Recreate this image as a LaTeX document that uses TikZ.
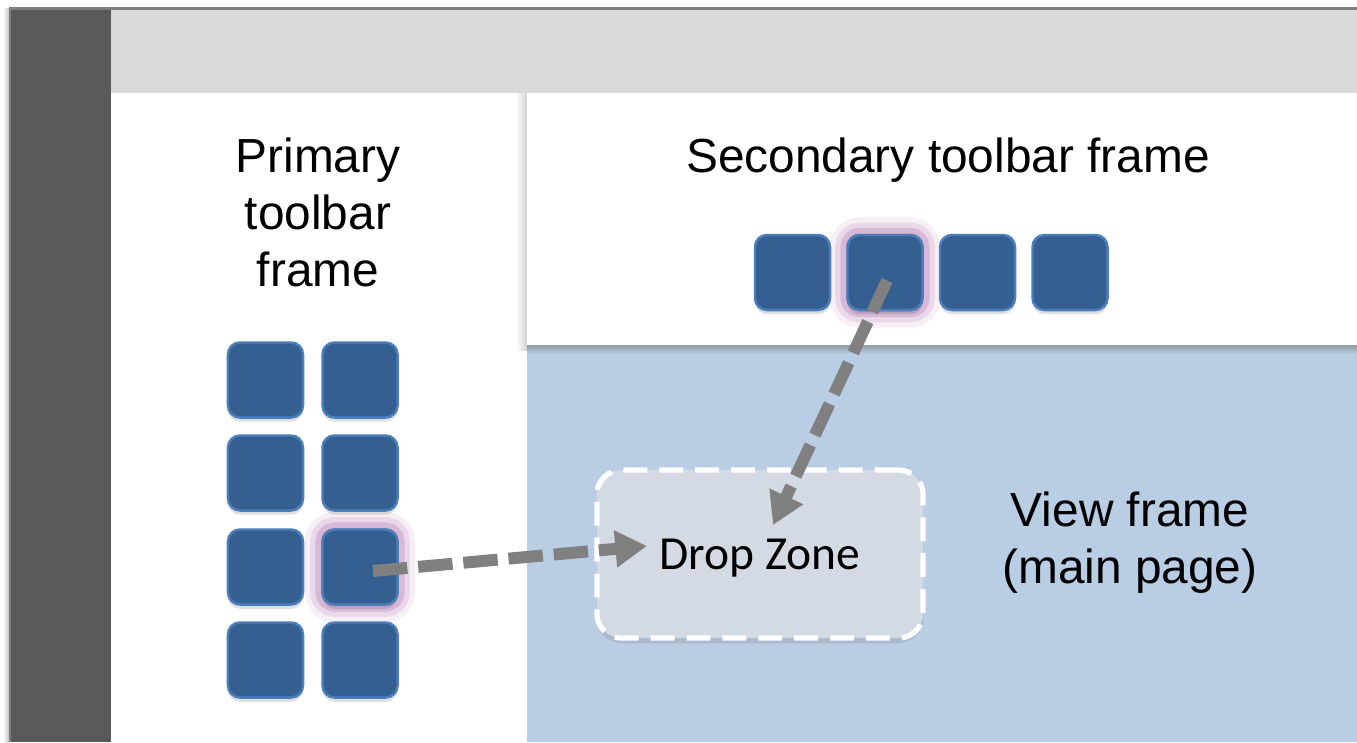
\documentclass[tikz,border=0pt]{standalone}
\usepackage{fontspec}
\setmainfont{Liberation Sans}
\newfontfamily\calibri{Carlito}
\usetikzlibrary{arrows.meta,shadows}
\definecolor{barGray}{HTML}{595959}
\definecolor{bandGray}{HTML}{D9D9D9}
\definecolor{edgeGray}{HTML}{7F7F7F}
\definecolor{viewBlue}{HTML}{B9CDE5}
\definecolor{btnBlue}{HTML}{365F91}
\definecolor{btnEdge}{HTML}{4A7EBB}
\definecolor{glowPink}{HTML}{B77FB5}
\definecolor{zoneGray}{HTML}{D3DAE3}
\definecolor{arrowGray}{HTML}{808080}
\tikzset{
  btn/.style={draw=btnEdge, line width=0.7pt, fill=btnBlue, rounded corners=3.4pt,
    minimum size=0.75cm, inner sep=0pt,
    drop shadow={shadow xshift=0pt, shadow yshift=-1.2pt, opacity=0.25}},
  picked/.style={preaction={draw=glowPink, line width=10pt, opacity=0.12},
    preaction={draw=glowPink, line width=7pt, opacity=0.2},
    preaction={draw=glowPink, line width=4pt, opacity=0.35}},
  label/.style={font=\fontsize{13.6}{16.2}\selectfont, align=center},
  dragarrow/.style={draw=arrowGray, line width=3.4pt, dash pattern=on 9.8pt off 3.1pt,
    -{Triangle[length=9pt,width=10pt]}}
}
\begin{document}
\begin{tikzpicture}[x=0.01cm,y=-0.01cm]
  \useasboundingbox (0,0) rectangle (1357,742);
  % window
  \shade[left color=white, right color=black!25] (3,8) rectangle (9,742);
  \fill[barGray] (9,8) rectangle (111,742);
  \fill[edgeGray] (9,8) rectangle (11,742);
  \fill[bandGray] (111,8) rectangle (1357,93);
  \fill[edgeGray] (9,7) rectangle (1357,10);
  % frames
  \fill[white] (111,93) rectangle (1357,742);
  \shade[left color=white, right color=black!18] (516,93) rectangle (527,350);
  \fill[viewBlue] (527,345) rectangle (1357,742);
  \shade[top color=viewBlue!55!black!70, bottom color=viewBlue] (527,345) rectangle (1357,354);
  \fill[white] (527,93) rectangle (1357,345);

  \node[label] (ptitle) at (318,212) {Primary\\toolbar\\frame};
  \node[label] (stitle) at (948,160) {Secondary toolbar frame};
  \node[label] (vtitle) at (1130,543) {View frame\\(main page)};

  % buttons
  \foreach \r/\y in {1/380,2/473,3/567,4/660}
    \foreach \c/\x in {1/265.5,2/360}
      \node[btn] (p\r\c) at (\x,\y) {};
  \foreach \c/\x in {1/792.5,2/885,3/977.5,4/1070}
    \node[btn] (s\c) at (\x,272.5) {};
  \node[btn,picked] (p32) at (360,567) {};
  \node[btn,picked] (s2) at (885,272.5) {};

  % drop zone
  \node[draw=white, line width=1.5pt, dash pattern=on 6.8pt off 3.4pt,
    fill=zoneGray, rounded corners=7pt, minimum width=3.26cm, minimum height=1.68cm,
    drop shadow={shadow xshift=0pt, shadow yshift=-1.5pt, opacity=0.25},
    text depth=0pt, font=\calibri\fontsize{13.5}{16}\selectfont] (dz) at (760,554) {Drop Zone};

  \coordinate (tipa) at (647,546);
  \coordinate (tipb) at (773,525);
  \draw[dragarrow] ([shift={(13,4)}]p32.center) -- (tipa);
  \draw[dragarrow] ([shift={(2,8)}]s2.center) -- (tipb);
\end{tikzpicture}
\end{document}
